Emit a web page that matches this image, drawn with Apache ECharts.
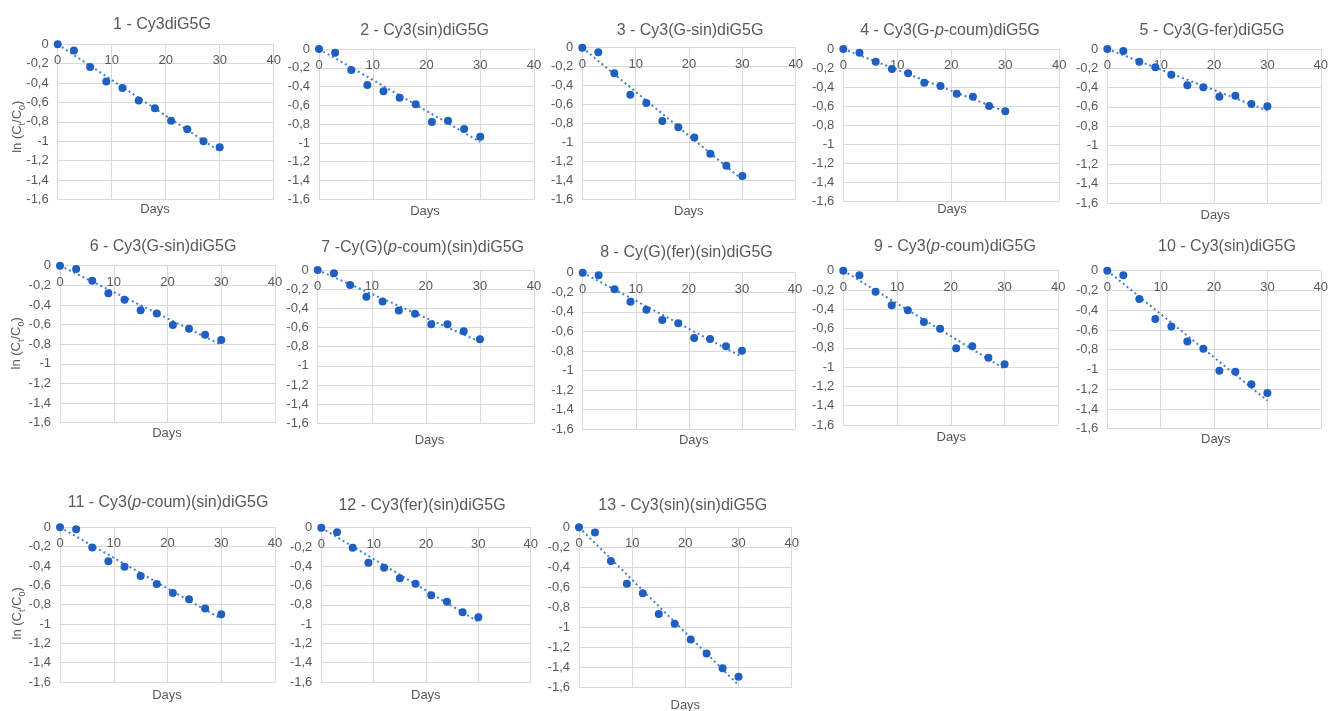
<!DOCTYPE html>
<html><head><meta charset="utf-8">
<script src="https://cdn.jsdelivr.net/npm/echarts@6/dist/echarts.min.js"></script>
<style>html,body{margin:0;padding:0;background:#fff}#c{width:1331px;height:711px}</style>
</head><body><div id="c"></div>
<script>
const days = [0, 3, 6, 9, 12, 15, 18, 21, 24, 27, 30];
const titles = [
  '1 - Cy3diG5G', '2 - Cy3(sin)diG5G', '3 - Cy3(G-sin)diG5G', '4 - Cy3(G-p-coum)diG5G',
  '5 - Cy3(G-fer)diG5G', '6 - Cy3(G-sin)diG5G', '7 -Cy(G)(p-coum)(sin)diG5G',
  '8 - Cy(G)(fer)(sin)diG5G', '9 - Cy3(p-coum)diG5G', '10 - Cy3(sin)diG5G',
  '11 - Cy3(p-coum)(sin)diG5G', '12 - Cy3(fer)(sin)diG5G', '13 - Cy3(sin)(sin)diG5G'
];
const xAxisTitle = 'Days';
const s1  = [0, -0.065, -0.234, -0.385, -0.450, -0.580, -0.660, -0.790, -0.877, -1.000, -1.063];
const s2  = [0, -0.039, -0.223, -0.383, -0.450, -0.518, -0.589, -0.777, -0.763, -0.851, -0.933];
const s3  = [0, -0.049, -0.270, -0.496, -0.584, -0.774, -0.840, -0.949, -1.118, -1.245, -1.354];
const s4  = [0, -0.039, -0.133, -0.210, -0.256, -0.354, -0.389, -0.470, -0.502, -0.600, -0.656];
const s5  = [0, -0.021, -0.132, -0.190, -0.267, -0.377, -0.398, -0.495, -0.485, -0.571, -0.596];
const s6  = [0, -0.034, -0.153, -0.282, -0.346, -0.455, -0.486, -0.605, -0.642, -0.703, -0.757];
const s7  = [0, -0.035, -0.157, -0.278, -0.330, -0.424, -0.456, -0.567, -0.567, -0.640, -0.723];
const s8  = [0, -0.027, -0.170, -0.296, -0.378, -0.483, -0.517, -0.667, -0.677, -0.752, -0.797];
const s9  = [0, -0.048, -0.218, -0.359, -0.411, -0.532, -0.601, -0.805, -0.784, -0.902, -0.971];
const s10 = [0, -0.047, -0.287, -0.489, -0.564, -0.716, -0.790, -1.013, -1.023, -1.151, -1.239];
const s11 = [0, -0.021, -0.210, -0.352, -0.407, -0.503, -0.586, -0.679, -0.745, -0.841, -0.900];
const s12 = [0, -0.048, -0.207, -0.363, -0.415, -0.525, -0.581, -0.701, -0.767, -0.878, -0.929];
const s13 = [0, -0.053, -0.336, -0.562, -0.659, -0.865, -0.961, -1.118, -1.258, -1.407, -1.490];
const allSeries = [s1, s2, s3, s4, s5, s6, s7, s8, s9, s10, s11, s12, s13];

// layout (plot areas: left, right, top, bottom)
const plots = [
  [57.7, 273.7, 44.3, 199.3], [319, 534, 49, 199.3], [582.3, 795.7, 47.7, 199.3],
  [843.3, 1059.3, 49, 201], [1107.3, 1323, 49, 203],
  [60, 275, 265.7, 422.7], [317.7, 534, 270, 423.3], [582.7, 795, 272.7, 429.3],
  [843.3, 1058.3, 270.7, 425], [1107.3, 1323, 270.7, 428.7],
  [60, 275, 527.3, 682], [321.3, 530.7, 527.7, 682], [579, 791.7, 527.3, 687.7]
];
const titlePos = [
  [162, 25], [424.6, 30.7], [690, 30.7], [950, 30.5], [1212, 30.5],
  [163, 246.7], [422.7, 248], [686.5, 252.7], [955, 246.7], [1227, 246.7],
  [168, 502.7], [422, 506], [682.7, 506]
];
const daysPos = [
  [155, 209], [425, 211.7], [688.8, 211.7], [952, 209.3], [1215.3, 215],
  [167, 433.3], [429.5, 440.7], [693.7, 440.7], [951.3, 437.3], [1215.8, 439.3],
  [167, 695], [425.8, 695], [685.3, 705.3]
];
const yNamePos = [[16, 126.7], [15, 343.3], [16, 613.3]];

const TXT = '#595959', GRID = '#D9D9D9', PT = '#1F5FC0', TREND = '#3F7FD6';
const FONT = '"Liberation Sans", Arial, sans-serif';

const grids = [], xAxes = [], yAxes = [], series = [], graphics = [];
allSeries.forEach((vals, i) => {
  const [L, R, T, B] = plots[i];
  grids.push({ left: L, top: T, width: R - L, height: B - T });
  xAxes.push({
    type: 'value', gridIndex: i, min: 0, max: 40, interval: 10, position: 'top',
    axisLine: { onZero: false, lineStyle: { color: GRID, width: 1 } },
    axisTick: { show: false },
    splitLine: { lineStyle: { color: GRID, width: 1 } },
    axisLabel: { color: TXT, fontSize: 13, fontFamily: FONT, inside: true, margin: 10 }
  });
  yAxes.push({
    type: 'value', gridIndex: i, min: -1.6, max: 0, interval: 0.2,
    axisLine: { show: true, onZero: false, lineStyle: { color: GRID, width: 1 } },
    axisTick: { show: false },
    splitLine: { lineStyle: { color: GRID, width: 1 } },
    axisLabel: {
      color: TXT, fontSize: 13, fontFamily: FONT, margin: 9,
      formatter: v => String(Math.round(v * 10) / 10).replace('.', ',')
    }
  });
  // linear trendline through origin (least squares fit of read values)
  let sxy = 0, sxx = 0;
  days.forEach((d, k) => { sxy += d * vals[k]; sxx += d * d; });
  const k = sxy / sxx;
  const x0 = days[0], x1 = days[days.length - 1];
  series.push({
    type: 'line', xAxisIndex: i, yAxisIndex: i, symbol: 'none', silent: true,
    data: [[x0, k * x0], [x1, k * x1]],
    lineStyle: { color: TREND, width: 2, type: [2, 3] }, z: 2
  });
  series.push({
    type: 'scatter', xAxisIndex: i, yAxisIndex: i, symbol: 'circle', symbolSize: 8,
    itemStyle: { color: PT, opacity: 1 },
    data: days.map((d, k2) => [d, vals[k2]]), z: 3
  });
  const rt = '{n|' + titles[i].replace('p-coum', '}{i|p}{n|-coum') + '}';
  graphics.push({
    type: 'text', x: titlePos[i][0], y: titlePos[i][1],
    style: {
      text: rt, align: 'center', verticalAlign: 'middle',
      rich: {
        n: { fontSize: 16, fontFamily: FONT, fill: TXT, color: TXT },
        i: { fontSize: 16, fontFamily: FONT, fill: TXT, color: TXT, fontStyle: 'italic' }
      }
    }
  });
  graphics.push({
    type: 'text', x: daysPos[i][0], y: daysPos[i][1],
    style: { text: xAxisTitle, align: 'center', verticalAlign: 'middle',
      font: '13px ' + FONT, fill: TXT }
  });
});
yNamePos.forEach(p => {
  graphics.push({
    type: 'text', x: p[0], y: p[1], rotation: Math.PI / 2,
    style: {
      text: '{a|ln (C}{s|t}{a|/C}{s|0}{a|)}', align: 'center', verticalAlign: 'middle',
      rich: {
        a: { fontSize: 13, fontFamily: FONT, fill: TXT, color: TXT, lineHeight: 16, verticalAlign: 'bottom' },
        s: { fontSize: 9, fontFamily: FONT, fill: TXT, color: TXT, lineHeight: 11, verticalAlign: 'bottom', padding: [0, 0, -3, 0] }
      }
    }
  });
});

const chart = echarts.init(document.getElementById('c'), null, { renderer: 'canvas' });
chart.setOption({
  animation: false,
  backgroundColor: '#fff',
  grid: grids, xAxis: xAxes, yAxis: yAxes, series: series,
  graphic: graphics
});
</script></body></html>
